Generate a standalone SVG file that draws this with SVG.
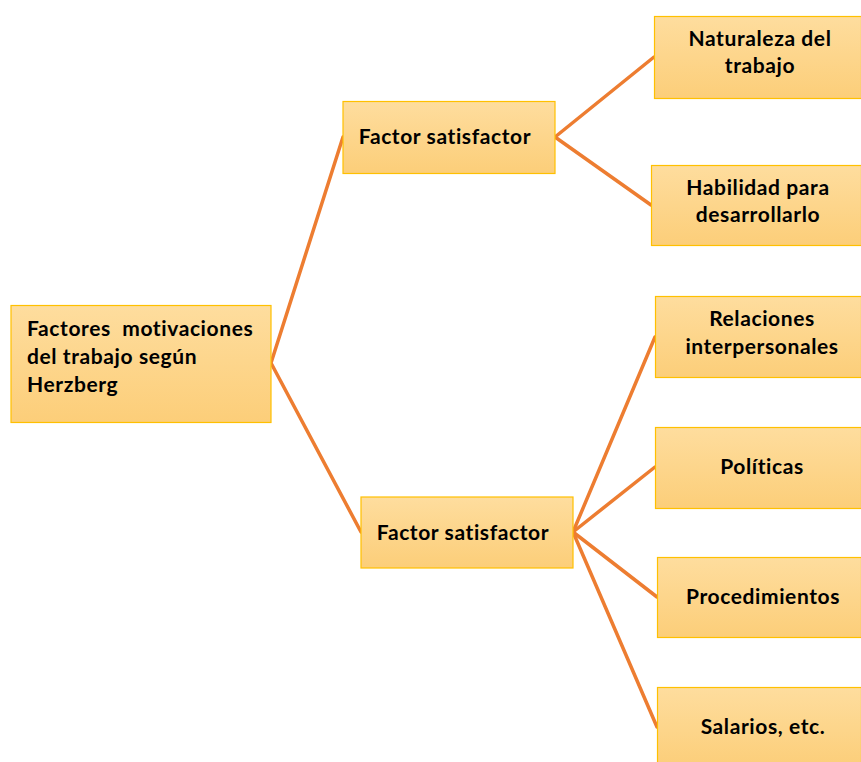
<svg xmlns="http://www.w3.org/2000/svg" width="861" height="762" viewBox="0 0 861 762">
<defs>
<linearGradient id="g" x1="0" y1="0" x2="0" y2="1">
<stop offset="0" stop-color="#FEDD9E"/>
<stop offset="1" stop-color="#FCCE79"/>
</linearGradient>
</defs>
<style>
.box{fill:url(#g);stroke:#FFC000;stroke-width:1.2}
.t{font-family:Lato,"Open Sans","Liberation Sans",sans-serif;font-weight:bold;font-size:21px;letter-spacing:0.6px;fill:#000}
.c{text-anchor:middle}
.ln{stroke:#ED7D31;stroke-width:3.5;fill:none;stroke-linecap:round;stroke-linejoin:round}
</style>
<rect width="861" height="762" fill="#fff"/>
<g id="connectors">
<polyline class="ln" points="343,137 271,363 361,532"/>
<polyline class="ln" points="654,57 555,137 651,205"/>
<line class="ln" x1="573" y1="532" x2="655" y2="337"/>
<line class="ln" x1="573" y1="532" x2="655" y2="467"/>
<line class="ln" x1="573" y1="532" x2="657" y2="597"/>
<line class="ln" x1="573" y1="532" x2="657" y2="727"/>
</g>
<g id="root">
<rect class="box" x="11" y="305.5" width="260" height="117"/>
<text class="t" x="27" y="336" xml:space="preserve">Factores  motivaciones</text>
<text class="t" x="27" y="364">del trabajo según</text>
<text class="t" x="27" y="392">Herzberg</text>
</g>
<g id="sat1">
<rect class="box" x="343" y="101.5" width="212" height="72"/>
<text class="t c" x="445" y="144">Factor satisfactor</text>
</g>
<g id="sat2">
<rect class="box" x="361" y="497" width="212" height="71"/>
<text class="t c" x="463" y="540">Factor satisfactor</text>
</g>
<g id="naturaleza">
<rect class="box" x="654.5" y="16.5" width="207" height="82"/>
<text class="t c" x="760" y="46">Naturaleza del</text>
<text class="t c" x="760" y="73">trabajo</text>
</g>
<g id="habilidad">
<rect class="box" x="651.5" y="165.5" width="210" height="80"/>
<text class="t c" x="758" y="195">Habilidad para</text>
<text class="t c" x="758" y="222">desarrollarlo</text>
</g>
<g id="relaciones">
<rect class="box" x="655.5" y="296.5" width="206" height="81"/>
<text class="t c" x="762" y="326">Relaciones</text>
<text class="t c" x="762" y="354">interpersonales</text>
</g>
<g id="politicas">
<rect class="box" x="655.5" y="427.5" width="206" height="81"/>
<text class="t c" x="762" y="474">Políticas</text>
</g>
<g id="procedimientos">
<rect class="box" x="657.5" y="557.5" width="204" height="80"/>
<text class="t c" x="763" y="604">Procedimientos</text>
</g>
<g id="salarios">
<rect class="box" x="657.5" y="687.5" width="204" height="80"/>
<text class="t c" x="763" y="734">Salarios, etc.</text>
</g>
</svg>
